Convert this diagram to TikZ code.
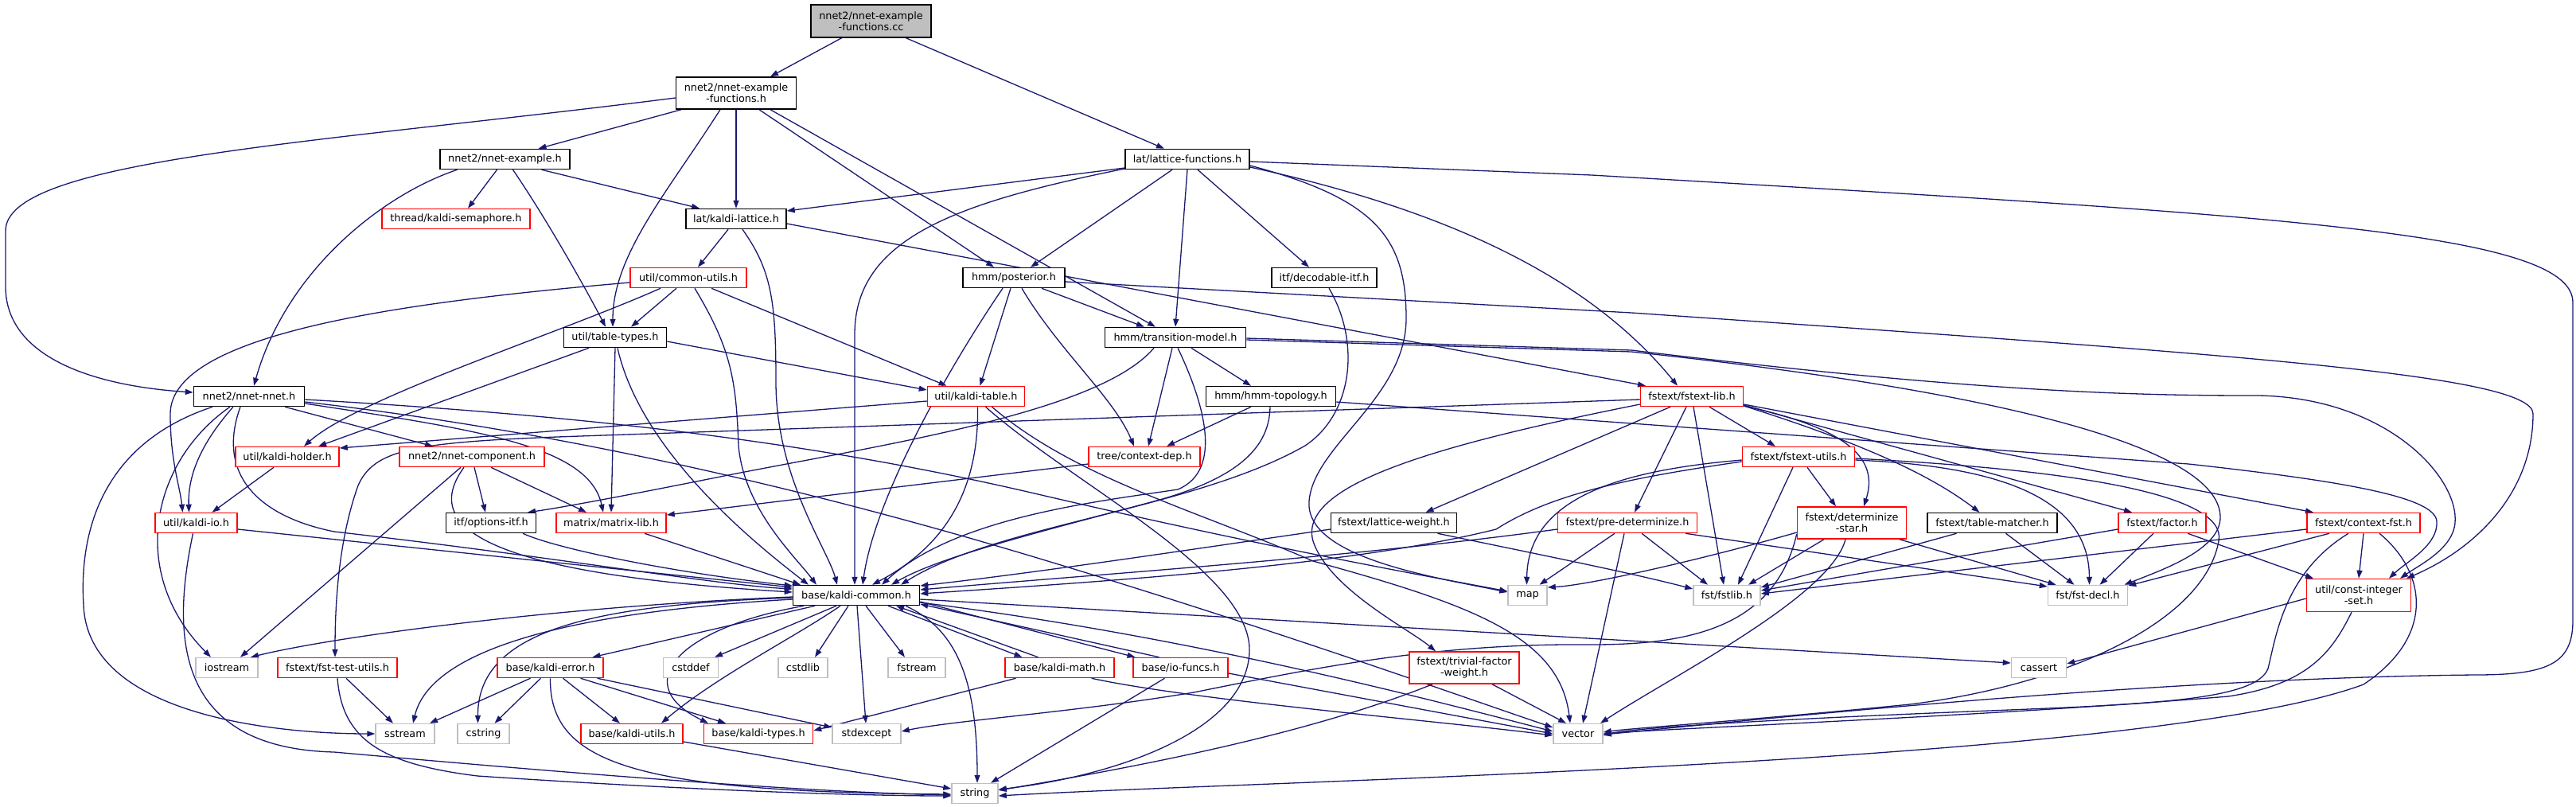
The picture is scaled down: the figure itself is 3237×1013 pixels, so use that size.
\documentclass[tikz,border=0pt]{standalone}
\usepackage{fontspec}
\setmainfont{DejaVu Sans}
\usetikzlibrary{arrows.meta}
\definecolor{edgec}{HTML}{191970}
\definecolor{nred}{HTML}{FF0000}
\definecolor{sysg}{HTML}{BFBFBF}
\begin{document}
\begin{tikzpicture}[x=1pt,y=-1pt,
  box/.style={rectangle, line width=1.5pt, minimum height=25pt, inner sep=0pt, fill=white, text=black,
              font=\fontsize{12.8pt}{14pt}\selectfont, align=center},
  blk/.style={box, draw=black},
  rd/.style={box, draw=nred},
  sys/.style={box, draw=sysg},
  two/.style={minimum height=40pt},
  rootn/.style={box, draw=black, fill=sysg, minimum height=41pt},
  e/.style={draw=edgec, line width=1.3pt, -{Triangle[length=10pt,width=7pt]}}]
\useasboundingbox (0,0) rectangle (3237,1013);
\fill[white] (0,0) rectangle (3237,1013);

% ---------------- nodes (placed first so anchors exist; redrawn on top later) ----------
\begin{scope}[every node/.append style={draw=none, fill=none, text opacity=0}]
\end{scope}

\node[rootn, minimum width=151pt] (cc) at (1094.5,26.5) {nnet2/nnet-example\\-functions.cc};
\node[blk, two, minimum width=151pt] (nef) at (925,117) {nnet2/nnet-example\\-functions.h};
\node[blk, minimum width=163pt] (ne) at (634.5,200) {nnet2/nnet-example.h};
\node[blk, minimum width=156pt] (lf) at (1492,200) {lat/lattice-functions.h};
\node[rd, minimum width=186pt] (sem) at (573,275) {thread/kaldi-semaphore.h};
\node[blk, minimum width=126pt] (kl) at (925,275) {lat/kaldi-lattice.h};
\node[rd, minimum width=146pt] (cu) at (865,349) {util/common-utils.h};
\node[blk, minimum width=128pt] (post) at (1274,349) {hmm/posterior.h};
\node[blk, minimum width=132pt] (dec) at (1664,349) {itf/decodable-itf.h};
\node[blk, minimum width=129pt] (tt) at (773,424) {util/table-types.h};
\node[blk, minimum width=177pt] (tm) at (1477,424) {hmm/transition-model.h};
\node[blk, minimum width=139pt] (nn) at (313,498) {nnet2/nnet-nnet.h};
\node[rd, minimum width=122pt] (kt) at (1226.5,498) {util/kaldi-table.h};
\node[blk, minimum width=163pt] (topo) at (1597,498) {hmm/hmm-topology.h};
\node[rd, minimum width=129pt] (fl) at (2126,498) {fstext/fstext-lib.h};
\node[rd, minimum width=130pt] (kh) at (361,574) {util/kaldi-holder.h};
\node[rd, minimum width=182pt] (nc) at (593,574) {nnet2/nnet-component.h};
\node[rd, minimum width=140pt] (cd) at (1438,574) {tree/context-dep.h};
\node[rd, minimum width=141pt] (fu) at (2260,574) {fstext/fstext-utils.h};
\node[rd, minimum width=103pt] (kio) at (246.5,657) {util/kaldi-io.h};
\node[blk, minimum width=113pt] (oi) at (617,657) {itf/options-itf.h};
\node[rd, minimum width=138pt] (ml) at (768,657) {matrix/matrix-lib.h};
\node[blk, minimum width=158pt] (lw) at (1751.5,657) {fstext/lattice-weight.h};
\node[rd, minimum width=175pt] (pd) at (2045,657) {fstext/pre-determinize.h};
\node[rd, two, minimum width=137pt] (ds) at (2327,657) {fstext/determinize\\-star.h};
\node[blk, minimum width=163pt] (tmat) at (2503.5,657) {fstext/table-matcher.h};
\node[rd, minimum width=110pt] (fac) at (2717,657) {fstext/factor.h};
\node[rd, minimum width=142pt] (cf) at (2970,657) {fstext/context-fst.h};
\node[blk, minimum width=159pt] (kc) at (1076,748) {base/kaldi-common.h};
\node[sys, minimum width=49pt] (map) at (1919.5,748) {map};
\node[sys, minimum width=84pt] (fstlib) at (2170,748) {fst/fstlib.h};
\node[sys, minimum width=100pt] (fdecl) at (2623.5,748) {fst/fst-decl.h};
\node[rd, minimum height=41pt, minimum width=131pt] (cis) at (2964,748) {util/const-integer\\-set.h};
\node[sys, minimum width=78pt] (ios) at (285,839) {iostream};
\node[rd, minimum width=150pt] (ftu) at (424,839) {fstext/fst-test-utils.h};
\node[rd, minimum width=133pt] (ke) at (691.5,839) {base/kaldi-error.h};
\node[sys, minimum width=69pt] (cstddef) at (868,839) {cstddef};
\node[sys, minimum width=62pt] (cstdlib) at (1009,839) {cstdlib};
\node[sys, minimum width=72pt] (fstream) at (1152,839) {fstream};
\node[rd, minimum width=137pt] (km) at (1331.5,839) {base/kaldi-math.h};
\node[rd, minimum width=119pt] (iof) at (1483.5,839) {base/io-funcs.h};
\node[rd, two, minimum width=138pt] (tfw) at (1840,839) {fstext/trivial-factor\\-weight.h};
\node[sys, minimum width=69pt] (cassert) at (2562,839) {cassert};
\node[sys, minimum width=74pt] (sstream) at (509,922) {sstream};
\node[sys, minimum width=65pt] (cstring) at (607.5,922) {cstring};
\node[rd, minimum width=128pt] (ku) at (794,922) {base/kaldi-utils.h};
\node[rd, minimum width=137pt] (kty) at (953,922) {base/kaldi-types.h};
\node[sys, minimum width=86pt] (stdexcept) at (1089,922) {stdexcept};
\node[sys, minimum width=62pt] (vector) at (1983,922) {vector};
\node[sys, minimum width=58pt] (string) at (1225,997) {string};

% ---------------- edges ----------------
% root
\draw[e] ([xshift=-37pt]cc.south) -- ([xshift=43pt]nef.north);
\draw[e] ([xshift=44pt]cc.south) -- ([xshift=-29pt]lf.north);
% nnet-example-functions.h
\draw[e] ([yshift=-6pt]nef.west) .. controls (400,180) and (7,200) .. (7,290) -- (7,360) .. controls (7,450) and (120,485) .. ([yshift=5pt]nn.west);
\draw[e] ([xshift=-69pt]nef.south) -- ([xshift=42pt]ne.north);
\draw[e] ([xshift=-20pt]nef.south) .. controls (840,240) and (770,320) .. ([xshift=-3pt]tt.north);
\draw[e] (nef.south) -- (kl.north);
\draw[e] ([xshift=29pt]nef.south) -- ([xshift=-25pt]post.north);
\draw[e] ([xshift=43pt]nef.south) -- ([xshift=-25pt]tm.north);
% nnet-example.h
\draw[e] ([xshift=-10pt]ne.south) -- ([xshift=15pt]sem.north);
\draw[e] ([xshift=46pt]ne.south) -- ([xshift=-46pt]kl.north);
\draw[e] ([xshift=10pt]ne.south) .. controls (690,280) and (740,370) .. ([xshift=-12pt]tt.north);
\draw[e] ([xshift=-60pt]ne.south) .. controls (480,245) and (360,340) .. ([xshift=6pt]nn.north);
% lattice-functions.h
\draw[e] ([yshift=-11pt]lf.west) -- ([yshift=10pt]kl.east);
\draw[e] ([yshift=-12pt]lf.west) .. controls (1200,255) and (1074,300) .. (1074,420) -- ([xshift=-2pt]kc.north);
\draw[e] ([xshift=-19pt]lf.south) -- ([xshift=21pt]post.north);
\draw[e] (lf.south) -- (tm.north);
\draw[e] ([xshift=13pt]lf.south) -- ([xshift=-19pt]dec.north);
\draw[e] ([yshift=-10pt]lf.east) .. controls (1800,260) and (1990,340) .. ([xshift=-18pt]fl.north);
\draw[e] ([yshift=-8pt]lf.east) .. controls (1730,250) and (1767,300) .. (1767,400) .. controls (1767,500) and (1650,560) .. (1645,630) .. controls (1640,700) and (1800,725) .. ([yshift=4pt]map.west);
\draw[e] ([yshift=-3pt]lf.east) -- (2000,220) .. controls (2850,270) and (3233,290) .. (3233,380) -- (3233,780) .. controls (3233,835) and (3200,848) .. (3110,848) .. controls (2700,852) and (2200,905) .. ([yshift=-1pt]vector.east);
% kaldi-lattice.h
\draw[e] ([xshift=-10pt]kl.south) -- ([xshift=12pt]cu.north);
\draw[e] ([xshift=8pt]kl.south) .. controls (970,340) and (975,380) .. (975,480) .. controls (975,600) and (1040,690) .. ([xshift=-24pt]kc.north);
\draw[e] ([yshift=-6pt]kl.east) -- ([xshift=-58pt]fl.north);
% common-utils.h
\draw[e] ([yshift=-6pt]cu.west) .. controls (500,380) and (214,420) .. (214,520) .. controls (214,580) and (226,610) .. ([xshift=-17pt]kio.north);
\draw[e] ([xshift=-35pt]cu.south) .. controls (700,420) and (450,500) .. ([xshift=21pt]kh.north);
\draw[e] ([xshift=-15pt]cu.south) -- ([xshift=20pt]tt.north);
\draw[e] ([xshift=8pt]cu.south) .. controls (920,440) and (925,480) .. (928,560) .. controls (935,640) and (1000,700) .. ([xshift=-50pt]kc.north);
\draw[e] ([xshift=29pt]cu.south) -- ([xshift=-37pt]kt.north);
% table-types.h
\draw[e] ([xshift=-33pt]tt.south) -- ([xshift=39pt]kh.north);
\draw[e] (tt.south) -- (ml.north);
\draw[e] ([xshift=3pt]tt.south) .. controls (790,500) and (840,600) .. ([xshift=-60pt]kc.north);
\draw[e] ([yshift=-5pt]tt.east) -- ([yshift=8pt]kt.west);
% posterior.h
\draw[e] ([xshift=-14pt]post.south) .. controls (1200,450) and (1100,620) .. ([xshift=8pt]kc.north);
\draw[e] ([xshift=-4pt]post.south) -- ([xshift=5pt]kt.north);
\draw[e] ([xshift=10pt]post.south) .. controls (1330,440) and (1400,500) .. ([xshift=-13pt]cd.north);
\draw[e] ([xshift=35pt]post.south) -- ([xshift=-39pt]tm.north);
\draw[e] ([yshift=-5pt]post.east) -- (2050,393) .. controls (2800,445) and (3183,470) .. (3183,520) .. controls (3183,620) and (3110,690) .. ([xshift=60pt]cis.north);
% transition-model.h
\draw[e] ([xshift=3pt]tm.south) .. controls (1510,500) and (1540,590) .. (1480,615) .. controls (1380,630) and (1200,650) .. ([xshift=32pt]kc.north);
\draw[e] ([xshift=-4pt]tm.south) -- ([xshift=5pt]cd.north);
\draw[e] ([xshift=20pt]tm.south) -- ([xshift=-25pt]topo.north);
\draw[e] ([xshift=-27pt]tm.south) .. controls (1380,520) and (1100,560) .. (900,600) .. controls (750,630) and (690,640) .. ([xshift=46pt]oi.north);
\draw[e] ([yshift=-3pt]tm.east) -- (2050,442) .. controls (2500,490) and (2790,560) .. (2790,650) .. controls (2790,690) and (2720,715) .. ([xshift=46pt]fdecl.north);
\draw[e] ([yshift=-1pt]tm.east) -- (2050,440) .. controls (2500,495) and (2700,497) .. (2838,497) .. controls (3000,500) and (3090,600) .. (3085,657) .. controls (3082,690) and (3040,710) .. ([xshift=52pt]cis.north);
% hmm-topology.h
\draw[e] ([xshift=-25pt]topo.south) -- ([xshift=28pt]cd.north);
\draw[e] ([xshift=-1pt]topo.south) .. controls (1595,560) and (1560,600) .. (1450,630) .. controls (1300,670) and (1180,700) .. ([xshift=44pt]kc.north);
\draw[e] ([yshift=-7pt]topo.east) -- (2750,583) .. controls (2950,605) and (3060,625) .. (3062,655) .. controls (3064,685) and (3025,705) .. ([xshift=38pt]cis.north);
% decodable-itf.h
\draw[e] ([xshift=6pt]dec.south) .. controls (1710,430) and (1700,520) .. (1640,560) .. controls (1500,640) and (1250,660) .. ([xshift=56pt]kc.north);
% fstext-lib.h
\draw[e] ([yshift=-4pt]fl.west) -- (700,549) .. controls (520,556) and (470,565) .. (450,610) .. controls (425,680) and (421,760) .. ([xshift=-3pt]ftu.north);
\draw[e] ([xshift=2pt]fl.south) -- ([xshift=-4pt]fstlib.north);
\draw[e] ([xshift=-7pt]fl.south) -- ([xshift=9pt]pd.north);
\draw[e] ([xshift=-27pt]fl.south) -- ([xshift=40pt]lw.north);
\draw[e] ([yshift=-10pt]fl.west) .. controls (1800,560) and (1630,610) .. (1650,680) .. controls (1670,740) and (1770,790) .. ([xshift=-36pt]tfw.north);
\draw[e] ([xshift=22pt]fl.south) -- ([xshift=-29pt]fu.north);
\draw[e] ([yshift=-12pt]fl.east) .. controls (2330,540) and (2360,580) .. ([xshift=15pt]ds.north);
\draw[e] ([yshift=-12pt]fl.east) .. controls (2350,560) and (2430,600) .. ([xshift=-16pt]tmat.north);
\draw[e] ([yshift=-11pt]fl.east) -- ([xshift=-38pt]fac.north);
\draw[e] ([yshift=-10pt]fl.east) -- ([xshift=-63pt]cf.north);
% kaldi-table.h
\draw[e] ([yshift=-6pt]kt.west) -- ([yshift=11pt]kh.east);
\draw[e] ([xshift=2pt]kt.south) .. controls (1230,600) and (1200,680) .. ([xshift=20pt]kc.north);
\draw[e] ([xshift=12pt]kt.south) .. controls (1350,610) and (1575,720) .. (1570,820) .. controls (1565,920) and (1400,975) .. ([yshift=5pt]string.east);
\draw[e] ([xshift=20pt]kt.south) .. controls (1350,600) and (1500,640) .. (1650,705) .. controls (1850,760) and (1960,800) .. ([xshift=-10pt]vector.north);
% context-dep.h
\draw[e] ([yshift=-9pt]cd.west) -- ([yshift=10pt]ml.east);
% nnet-nnet.h
\draw[e] ([xshift=-46pt]nn.south) .. controls (120,560) and (100,680) .. (105,760) .. controls (110,900) and (350,922) .. (sstream.west);
\draw[e] ([xshift=-24pt]nn.south) .. controls (190,580) and (160,720) .. ([xshift=-20pt]ios.north);
\draw[e] ([xshift=-20pt]nn.south) .. controls (250,560) and (236,600) .. ([xshift=-9pt]kio.north);
\draw[e] ([xshift=-11pt]nn.south) .. controls (270,600) and (330,650) .. (420,668) .. controls (700,700) and (900,735) .. ([yshift=8pt]kc.west);
\draw[e] ([xshift=45pt]nn.south) -- ([xshift=-49pt]nc.north);
\draw[e] ([yshift=-4pt]nn.east) .. controls (700,520) and (1000,550) .. (1300,620) .. controls (1600,690) and (1800,725) .. ([yshift=5pt]map.west);
\draw[e] ([yshift=-7pt]nn.east) .. controls (600,530) and (900,580) .. (1300,700) .. controls (1600,790) and (1850,880) .. ([yshift=8pt]vector.west);
\draw[e] ([yshift=-9pt]nn.east) .. controls (600,540) and (740,560) .. ([xshift=-10pt]ml.north);
% kaldi-holder.h
\draw[e] ([xshift=-17pt]kh.south) -- ([xshift=20pt]kio.north);
% nnet-component.h
\draw[e] ([xshift=-14pt]nc.south) -- ([xshift=17pt]ios.north);
\draw[e] ([xshift=-10pt]nc.south) .. controls (530,660) and (600,720) .. ([yshift=4pt]kc.west);
\draw[e] ([xshift=3pt]nc.south) -- ([xshift=-7pt]oi.north);
\draw[e] ([xshift=24pt]nc.south) -- ([xshift=-31pt]ml.north);
% kaldi-io.h
\draw[e] ([yshift=-8pt]kio.east) -- ([yshift=10pt]kc.west);
\draw[e] ([xshift=-4pt]kio.south) .. controls (215,800) and (220,940) .. (420,945) .. controls (700,970) and (1000,995) .. ([yshift=-2pt]string.west);
% options-itf.h, matrix-lib.h
\draw[e] ([xshift=40pt]oi.south) .. controls (700,690) and (850,720) .. ([yshift=12pt]kc.west);
\draw[e] ([xshift=42pt]ml.south) -- ([xshift=-70pt]kc.north);
% lattice-weight.h
\draw[e] ([yshift=-8pt]lw.west) .. controls (1500,690) and (1300,720) .. ([yshift=12pt]kc.east);
\draw[e] ([xshift=55pt]lw.south) .. controls (1950,700) and (2050,720) .. ([yshift=8pt]fstlib.west);
% pre-determinize.h
\draw[e] ([yshift=-8pt]pd.west) .. controls (1700,700) and (1400,720) .. ([yshift=7pt]kc.east);
\draw[e] ([xshift=-16pt]pd.south) -- ([xshift=15pt]map.north);
\draw[e] ([xshift=-4pt]pd.south) -- ([xshift=6pt]vector.north);
\draw[e] ([xshift=18pt]pd.south) -- ([xshift=-24pt]fstlib.north);
\draw[e] ([xshift=73pt]pd.south) -- ([yshift=11pt]fdecl.west);
% fstext-utils.h
\draw[e] ([yshift=-4pt]fu.west) .. controls (2050,590) and (1920,620) .. ([xshift=-1pt]map.north);
\draw[e] ([yshift=-6pt]fu.west) .. controls (2050,600) and (1950,620) .. (1880,665) .. controls (1700,710) and (1400,730) .. ([yshift=2pt]kc.east);
\draw[e] ([xshift=-7pt]fu.south) -- ([xshift=14pt]fstlib.north);
\draw[e] ([xshift=11pt]fu.south) -- ([xshift=-20pt]ds.north);
\draw[e] ([yshift=-4pt]fu.east) .. controls (2500,585) and (2625,620) .. ([xshift=2pt]fdecl.north);
\draw[e] ([yshift=-2pt]fu.east) .. controls (2600,590) and (2800,620) .. (2788,680) .. controls (2770,780) and (2600,860) .. (2400,885) .. controls (2200,905) and (2050,915) .. ([yshift=2pt]vector.east);
% determinize-star.h
\draw[e] ([yshift=-12pt]ds.west) .. controls (2150,700) and (2000,735) .. ([yshift=10pt]map.east);
\draw[e] ([xshift=-35pt]ds.south) -- ([xshift=27pt]fstlib.north);
\draw[e] ([xshift=60pt]ds.south) -- ([xshift=-40pt]fdecl.north);
\draw[e] ([xshift=-8pt]ds.south) .. controls (2300,750) and (2100,850) .. ([xshift=28pt]vector.north);
\draw[e] ([yshift=-14pt]ds.west) .. controls (2230,790) and (2120,810) .. (2000,810) .. controls (1800,808) and (1650,840) .. (1500,870) .. controls (1350,895) and (1200,905) .. ([yshift=3pt]stdexcept.east);
% table-matcher.h
\draw[e] ([xshift=-45pt]tmat.south) -- ([yshift=10pt]fstlib.east);
\draw[e] ([xshift=17pt]tmat.south) -- ([xshift=-17pt]fdecl.north);
% factor.h
\draw[e] ([yshift=-8pt]fac.west) -- ([yshift=6pt]fstlib.east);
\draw[e] ([xshift=-11pt]fac.south) -- ([xshift=15pt]fdecl.north);
\draw[e] ([xshift=32pt]fac.south) -- ([xshift=-57pt]cis.north);
% context-fst.h
\draw[e] ([yshift=-8pt]cf.west) -- ([yshift=2pt]fstlib.east);
\draw[e] ([xshift=-43pt]cf.south) -- ([yshift=12pt]fdecl.east);
\draw[e] (cf.south) -- (cis.north);
\draw[e] ([xshift=-19pt]cf.south) .. controls (2870,720) and (2860,800) .. (2850,840) .. controls (2835,880) and (2700,885) .. (2500,893) .. controls (2200,905) and (2050,915) .. ([yshift=-2pt]vector.east);
\draw[e] ([xshift=20pt]cf.south) .. controls (3050,720) and (3060,800) .. (2970,860) .. controls (2700,960) and (1600,980) .. ([yshift=-3pt]string.east);
% const-integer-set.h
\draw[e] ([yshift=-4pt]cis.west) -- ([yshift=5pt]cassert.east);
\draw[e] ([xshift=-9pt]cis.south) .. controls (2930,820) and (2900,860) .. (2800,875) .. controls (2500,900) and (2100,915) .. (vector.east);
% kaldi-common.h
\draw[e] ([yshift=-2pt]kc.west) .. controls (700,762) and (420,800) .. ([xshift=30pt]ios.north);
\draw[e] ([yshift=-5pt]kc.west) .. controls (700,770) and (540,820) .. ([xshift=10pt]sstream.north);
\draw[e] ([yshift=-3pt]kc.west) .. controls (750,760) and (600,790) .. ([xshift=-7pt]cstring.north);
\draw[e] ([xshift=-52pt]kc.south) -- ([xshift=53pt]ke.north);
\draw[e] ([xshift=-25pt]kc.south) -- ([xshift=30pt]cstddef.north);
\draw[e] ([xshift=-10pt]kc.south) -- ([xshift=15pt]cstdlib.north);
\draw[e] ([xshift=-20pt]kc.south) .. controls (1000,800) and (900,850) .. ([xshift=37pt]ku.north);
\draw[e] ([xshift=-66pt]kc.south) .. controls (850,790) and (790,860) .. ([xshift=-63pt]kty.north);
\draw[e] ([xshift=12pt]kc.south) -- ([xshift=-15pt]fstream.north);
\draw[e] ([xshift=1pt]kc.south) -- ([xshift=-1pt]stdexcept.north);
\draw[e] ([xshift=62pt]kc.south) .. controls (1200,790) and (1228,850) .. ([xshift=3pt]string.north);
\draw[e] ([xshift=40pt]kc.south) -- ([xshift=-47pt]km.north);
\draw[e] ([xshift=-27pt]km.north) -- ([xshift=50pt]kc.south);
\draw[e] ([yshift=-8pt]kc.east) -- ([xshift=-57pt]iof.north);
\draw[e] ([xshift=-27pt]iof.north) -- ([yshift=-11pt]kc.east);
\draw[e] ([yshift=-5pt]kc.east) -- ([yshift=6pt]cassert.west);
\draw[e] ([yshift=-9pt]kc.east) .. controls (1500,800) and (1800,880) .. ([yshift=3pt]vector.west);
% kaldi-math.h, io-funcs.h, trivial-factor-weight.h
\draw[e] ([xshift=-55pt]km.south) -- ([yshift=4pt]kty.east);
\draw[e] ([xshift=40pt]km.south) .. controls (1500,880) and (1800,905) .. ([yshift=-2pt]vector.west);
\draw[e] ([yshift=-7pt]iof.east) -- (vector.west);
\draw[e] ([xshift=-20pt]iof.south) -- ([xshift=20pt]string.north);
\draw[e] ([xshift=35pt]tfw.south) -- ([xshift=-15pt]vector.north);
\draw[e] ([xshift=-40pt]tfw.south) .. controls (1650,920) and (1450,960) .. ([yshift=4pt]string.east);
% kaldi-error.h
\draw[e] ([xshift=-25pt]ke.south) -- ([xshift=31pt]sstream.north);
\draw[e] ([xshift=-12pt]ke.south) -- ([xshift=14pt]cstring.north);
\draw[e] ([xshift=16pt]ke.south) -- ([xshift=-15pt]ku.north);
\draw[e] ([xshift=38pt]ke.south) -- ([xshift=-41pt]kty.north);
\draw[e] ([xshift=59pt]ke.south) -- ([yshift=8pt]stdexcept.west);
\draw[e] (ke.south) .. controls (690,960) and (800,995) .. ([yshift=-1pt]string.west);
% fst-test-utils.h, kaldi-utils.h
\draw[e] ([xshift=11pt]ftu.south) -- ([xshift=-15pt]sstream.north);
\draw[e] (ftu.south) .. controls (430,930) and (480,960) .. (600,975) .. controls (900,995) and (1100,1000) .. ([yshift=-3pt]string.west);
\draw[e] ([yshift=-10pt]ku.east) -- ([yshift=6pt]string.west);

% ---------------- nodes redrawn on top ----------------
\node[rootn, minimum width=151pt] at (cc) {nnet2/nnet-example\\-functions.cc};
\node[blk, two, minimum width=151pt] at (nef) {nnet2/nnet-example\\-functions.h};
\node[blk, minimum width=163pt] at (ne) {nnet2/nnet-example.h};
\node[blk, minimum width=156pt] at (lf) {lat/lattice-functions.h};
\node[rd, minimum width=186pt] at (sem) {thread/kaldi-semaphore.h};
\node[blk, minimum width=126pt] at (kl) {lat/kaldi-lattice.h};
\node[rd, minimum width=146pt] at (cu) {util/common-utils.h};
\node[blk, minimum width=128pt] at (post) {hmm/posterior.h};
\node[blk, minimum width=132pt] at (dec) {itf/decodable-itf.h};
\node[blk, minimum width=129pt] at (tt) {util/table-types.h};
\node[blk, minimum width=177pt] at (tm) {hmm/transition-model.h};
\node[blk, minimum width=139pt] at (nn) {nnet2/nnet-nnet.h};
\node[rd, minimum width=122pt] at (kt) {util/kaldi-table.h};
\node[blk, minimum width=163pt] at (topo) {hmm/hmm-topology.h};
\node[rd, minimum width=129pt] at (fl) {fstext/fstext-lib.h};
\node[rd, minimum width=130pt] at (kh) {util/kaldi-holder.h};
\node[rd, minimum width=182pt] at (nc) {nnet2/nnet-component.h};
\node[rd, minimum width=140pt] at (cd) {tree/context-dep.h};
\node[rd, minimum width=141pt] at (fu) {fstext/fstext-utils.h};
\node[rd, minimum width=103pt] at (kio) {util/kaldi-io.h};
\node[blk, minimum width=113pt] at (oi) {itf/options-itf.h};
\node[rd, minimum width=138pt] at (ml) {matrix/matrix-lib.h};
\node[blk, minimum width=158pt] at (lw) {fstext/lattice-weight.h};
\node[rd, minimum width=175pt] at (pd) {fstext/pre-determinize.h};
\node[rd, two, minimum width=137pt] at (ds) {fstext/determinize\\-star.h};
\node[blk, minimum width=163pt] at (tmat) {fstext/table-matcher.h};
\node[rd, minimum width=110pt] at (fac) {fstext/factor.h};
\node[rd, minimum width=142pt] at (cf) {fstext/context-fst.h};
\node[blk, minimum width=159pt] at (kc) {base/kaldi-common.h};
\node[sys, minimum width=49pt] at (map) {map};
\node[sys, minimum width=84pt] at (fstlib) {fst/fstlib.h};
\node[sys, minimum width=100pt] at (fdecl) {fst/fst-decl.h};
\node[rd, minimum height=41pt, minimum width=131pt] at (cis) {util/const-integer\\-set.h};
\node[sys, minimum width=78pt] at (ios) {iostream};
\node[rd, minimum width=150pt] at (ftu) {fstext/fst-test-utils.h};
\node[rd, minimum width=133pt] at (ke) {base/kaldi-error.h};
\node[sys, minimum width=69pt] at (cstddef) {cstddef};
\node[sys, minimum width=62pt] at (cstdlib) {cstdlib};
\node[sys, minimum width=72pt] at (fstream) {fstream};
\node[rd, minimum width=137pt] at (km) {base/kaldi-math.h};
\node[rd, minimum width=119pt] at (iof) {base/io-funcs.h};
\node[rd, two, minimum width=138pt] at (tfw) {fstext/trivial-factor\\-weight.h};
\node[sys, minimum width=69pt] at (cassert) {cassert};
\node[sys, minimum width=74pt] at (sstream) {sstream};
\node[sys, minimum width=65pt] at (cstring) {cstring};
\node[rd, minimum width=128pt] at (ku) {base/kaldi-utils.h};
\node[rd, minimum width=137pt] at (kty) {base/kaldi-types.h};
\node[sys, minimum width=86pt] at (stdexcept) {stdexcept};
\node[sys, minimum width=62pt] at (vector) {vector};
\node[sys, minimum width=58pt] at (string) {string};
\end{tikzpicture}
\end{document}
